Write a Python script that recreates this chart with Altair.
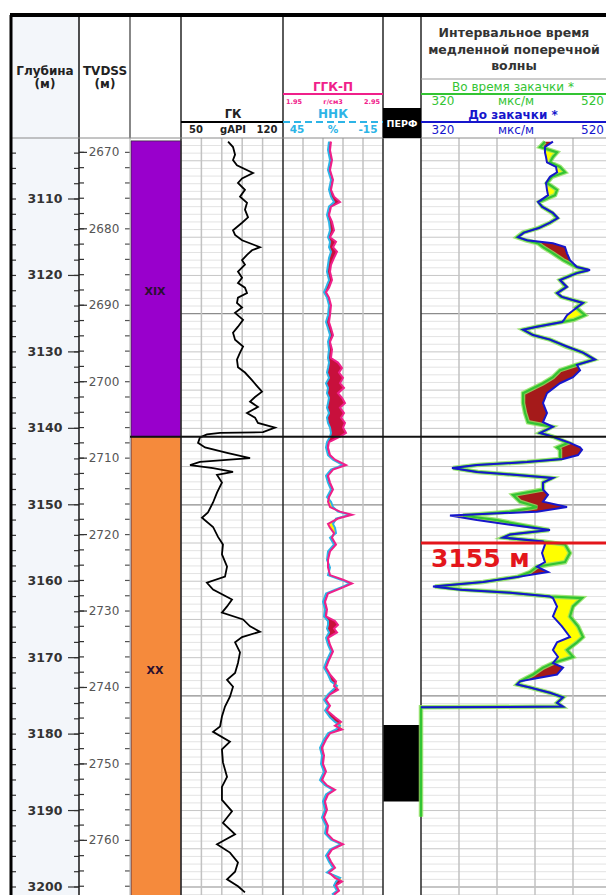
import altair as alt
import pandas as pd

# ---------------- log data (MD in metres) ----------------
# Gamma ray, gAPI
GK_LOG = [
    (3102.5, 82.3), (3103.2, 85.7), (3104.2, 87.1), (3104.9, 85.7), (3105.6, 88.4),
    (3106.6, 99.4), (3107.3, 91.9), (3107.9, 89.1), (3108.8, 93.9), (3109.7, 90.5),
    (3110.5, 95.3), (3111.4, 93.9), (3112.4, 96.0), (3113.1, 91.9), (3114.1, 85.7),
    (3114.7, 87.1), (3115.4, 91.9), (3116.3, 104.2), (3116.7, 98.7), (3117.3, 95.3),
    (3118.0, 91.9), (3118.6, 93.9), (3119.5, 89.1), (3120.3, 91.9), (3121.0, 89.1),
    (3121.6, 93.9), (3122.3, 95.3), (3122.9, 89.1), (3123.6, 88.4), (3124.2, 91.9),
    (3124.9, 87.1), (3125.8, 92.6), (3126.7, 89.1), (3127.5, 85.7), (3128.4, 87.1),
    (3129.3, 92.6), (3130.1, 90.5), (3131.0, 88.4), (3132.0, 89.1), (3132.7, 93.9),
    (3133.7, 98.7), (3134.6, 102.8), (3135.2, 105.6), (3135.9, 100.8), (3136.5, 97.4),
    (3137.2, 102.8), (3138.0, 95.3), (3138.6, 100.8), (3139.3, 102.8), (3139.9, 114.5),
    (3140.5, 106.3), (3140.6, 76.8), (3140.8, 67.8), (3141.2, 63.0), (3141.9, 61.7),
    (3142.5, 66.5), (3143.2, 81.6), (3143.9, 97.4), (3144.4, 63.0), (3144.8, 56.2),
    (3145.2, 72.0), (3145.7, 85.7), (3146.1, 74.7), (3147.1, 78.1), (3148.4, 74.7),
    (3149.7, 72.0), (3151.0, 68.5), (3151.7, 64.4), (3152.9, 72.0), (3154.2, 75.4),
    (3155.2, 78.8), (3156.5, 78.1), (3158.1, 81.6), (3159.4, 80.2), (3160.2, 67.8),
    (3161.1, 72.0), (3162.4, 85.0), (3163.3, 81.6), (3164.1, 78.1), (3165.0, 92.6),
    (3165.9, 97.4), (3166.6, 104.2), (3167.3, 91.9), (3168.0, 87.1), (3169.3, 90.5),
    (3170.7, 89.1), (3172.0, 87.1), (3172.9, 81.6), (3173.8, 85.7), (3175.1, 83.6),
    (3176.4, 80.2), (3177.7, 78.1), (3179.0, 76.8), (3179.7, 72.0), (3181.0, 83.6),
    (3182.0, 78.1), (3183.7, 78.8), (3185.6, 81.6), (3186.9, 78.1), (3188.6, 78.1),
    (3190.1, 85.0), (3191.6, 78.8), (3193.1, 87.1), (3194.4, 74.7), (3195.5, 83.6),
    (3196.8, 89.1), (3198.0, 87.1), (3199.0, 81.6), (3199.9, 89.1), (3200.7, 93.9),
]

# Density (g/cm3) and neutron porosity (%)
DENS_NEUT = [
    (3102.5, 2.43, 17.4), (3103.6, 2.42, 18.0), (3104.9, 2.44, 16.8), (3106.2, 2.42, 18.0),
    (3107.5, 2.45, 16.2), (3108.8, 2.43, 17.4), (3109.7, 2.46, 16.2), (3110.4, 2.52, 14.4),
    (3111.0, 2.43, 17.4), (3112.1, 2.41, 18.6), (3113.0, 2.44, 17.4), (3114.1, 2.46, 16.8),
    (3115.0, 2.42, 18.0), (3115.6, 2.48, 16.8), (3116.3, 2.45, 17.4), (3116.9, 2.49, 16.2),
    (3117.7, 2.46, 17.4), (3118.6, 2.43, 18.0), (3119.5, 2.42, 18.6), (3120.6, 2.44, 17.4),
    (3121.6, 2.41, 19.2), (3122.2, 2.38, 20.4), (3122.9, 2.41, 18.6), (3123.9, 2.43, 17.4),
    (3125.2, 2.42, 18.0), (3126.1, 2.41, 19.2), (3126.9, 2.43, 18.0), (3127.8, 2.45, 16.8),
    (3128.7, 2.42, 18.0), (3129.7, 2.44, 17.4), (3130.8, 2.43, 18.0), (3131.4, 2.50, 17.4),
    (3132.1, 2.54, 18.0), (3132.7, 2.51, 18.6), (3133.4, 2.55, 17.4), (3134.1, 2.52, 19.2),
    (3134.7, 2.56, 18.0), (3135.4, 2.50, 18.6), (3136.0, 2.54, 17.4), (3136.7, 2.57, 18.0),
    (3137.3, 2.52, 18.6), (3138.0, 2.56, 17.4), (3138.6, 2.53, 18.6), (3139.3, 2.57, 18.0),
    (3139.9, 2.55, 16.8), (3140.6, 2.58, 16.2), (3141.1, 2.52, 16.8), (3141.8, 2.41, 18.6),
    (3142.5, 2.40, 19.2), (3143.5, 2.42, 18.0), (3144.1, 2.47, 15.0), (3144.8, 2.58, 9.0),
    (3145.4, 2.45, 16.2), (3146.2, 2.40, 19.2), (3147.1, 2.42, 18.0), (3148.0, 2.45, 16.2),
    (3149.0, 2.41, 18.6), (3149.6, 2.40, 16.2), (3150.3, 2.42, 15.0), (3150.9, 2.52, 12.0),
    (3151.3, 2.64, 4.8), (3151.8, 2.50, 13.2), (3152.5, 2.40, 15.0), (3153.0, 2.42, 13.8),
    (3153.7, 2.46, 13.2), (3154.3, 2.44, 16.8), (3155.2, 2.48, 14.4), (3156.1, 2.42, 18.0),
    (3157.2, 2.40, 18.6), (3158.2, 2.40, 16.8), (3159.2, 2.42, 18.0), (3159.8, 2.55, 10.2),
    (3160.3, 2.64, 4.8), (3160.8, 2.55, 10.2), (3161.6, 2.40, 19.2), (3162.7, 2.37, 21.0),
    (3163.7, 2.39, 19.8), (3164.6, 2.38, 20.4), (3165.2, 2.47, 18.0), (3165.7, 2.50, 18.0),
    (3166.2, 2.46, 18.6), (3166.7, 2.49, 17.4), (3167.4, 2.40, 19.2), (3168.3, 2.42, 18.0),
    (3169.2, 2.45, 16.2), (3170.3, 2.41, 18.6), (3171.3, 2.38, 20.4), (3172.2, 2.42, 18.0),
    (3173.1, 2.48, 16.2), (3173.7, 2.46, 12.6), (3174.2, 2.50, 15.0), (3174.8, 2.42, 18.0),
    (3175.5, 2.38, 20.4), (3176.3, 2.42, 18.0), (3176.9, 2.39, 19.8), (3177.8, 2.47, 16.8),
    (3178.4, 2.53, 13.8), (3178.9, 2.47, 10.8), (3179.4, 2.54, 13.2), (3179.9, 2.42, 18.0),
    (3180.7, 2.38, 20.4), (3181.8, 2.34, 22.8), (3182.8, 2.36, 21.6), (3183.9, 2.35, 22.2),
    (3184.9, 2.38, 20.4), (3186.0, 2.34, 22.8), (3186.7, 2.39, 19.8), (3187.3, 2.47, 15.0),
    (3187.9, 2.40, 19.2), (3188.8, 2.37, 21.0), (3189.9, 2.39, 19.8), (3190.9, 2.36, 21.6),
    (3192.0, 2.40, 19.2), (3193.0, 2.39, 19.8), (3193.8, 2.45, 16.2), (3194.4, 2.55, 10.2),
    (3195.1, 2.44, 16.8), (3195.9, 2.40, 19.2), (3196.7, 2.43, 17.4), (3197.5, 2.47, 15.0),
    (3198.1, 2.41, 18.6), (3198.8, 2.47, 10.8), (3199.3, 2.54, 13.2), (3199.8, 2.48, 14.4),
    (3200.5, 2.51, 12.6), (3201.0, 2.46, 15.6),
]

# Slow shear slowness, us/m: (MD, during injection, before injection)
DT_LOG = [
    (3102.5, 450.5, 458.9), (3103.2, 445.3, 450.5), (3103.9, 463.2, 450.5), (3104.5, 458.9, 451.6),
    (3105.2, 455.8, 452.6), (3105.8, 466.3, 462.1), (3106.5, 471.6, 463.2), (3107.1, 457.9, 455.8),
    (3107.9, 452.6, 451.6), (3108.8, 463.2, 452.6), (3109.5, 461.1, 453.7), (3110.4, 444.2, 443.2),
    (3111.0, 447.4, 447.4), (3111.8, 457.9, 458.9), (3112.5, 463.2, 464.2), (3113.1, 455.8, 455.8),
    (3113.8, 443.2, 444.2), (3114.4, 427.4, 428.4), (3115.0, 421.1, 422.1), (3115.4, 430.5, 431.6),
    (3115.8, 443.2, 458.9), (3116.3, 448.4, 471.6), (3117.1, 458.9, 473.7), (3118.0, 469.5, 476.8),
    (3118.9, 483.2, 484.2), (3119.3, 495.8, 497.9), (3119.7, 483.2, 484.2), (3120.6, 466.3, 466.3),
    (3121.5, 472.6, 473.7), (3122.3, 463.2, 463.2), (3122.8, 467.4, 468.4), (3123.6, 490.5, 490.5),
    (3124.2, 483.2, 484.2), (3125.2, 492.6, 473.7), (3125.8, 481.1, 470.5), (3126.1, 468.4, 468.4),
    (3126.7, 442.1, 442.1), (3127.1, 427.4, 427.4), (3127.8, 437.9, 437.9), (3128.4, 455.8, 455.8),
    (3129.3, 472.6, 473.7), (3130.1, 490.5, 490.5), (3131.0, 502.1, 503.2), (3131.7, 483.2, 484.2),
    (3132.4, 466.3, 487.4), (3133.3, 458.9, 480.0), (3134.1, 448.4, 466.3), (3135.4, 427.4, 452.6),
    (3136.7, 427.4, 448.4), (3138.0, 429.5, 452.6), (3139.2, 432.6, 448.4), (3139.8, 457.9, 458.9),
    (3140.6, 445.3, 445.3), (3141.1, 458.9, 458.9), (3141.9, 474.7, 476.8), (3142.5, 463.2, 487.4),
    (3142.8, 466.3, 489.5), (3143.5, 466.3, 485.3), (3144.0, 466.3, 469.5), (3144.4, 431.6, 431.6),
    (3144.8, 378.9, 378.9), (3145.2, 353.7, 352.6), (3145.7, 380.0, 378.9), (3146.1, 421.1, 421.1),
    (3146.5, 457.9, 458.9), (3147.1, 448.4, 448.4), (3148.0, 448.4, 448.4), (3148.7, 416.8, 453.7),
    (3149.6, 424.2, 448.4), (3150.3, 442.1, 473.7), (3150.9, 413.7, 442.1), (3151.4, 364.2, 350.5),
    (3152.0, 400.0, 378.9), (3152.6, 424.2, 413.7), (3153.3, 454.7, 455.8), (3153.9, 413.7, 413.7),
    (3154.3, 406.3, 406.3), (3154.8, 448.4, 448.4), (3155.2, 471.6, 450.5), (3156.3, 476.8, 447.4),
    (3157.5, 471.6, 450.5), (3158.1, 442.1, 442.1), (3158.8, 434.7, 453.7), (3159.4, 422.1, 424.2),
    (3160.1, 385.3, 385.3), (3160.7, 334.7, 332.6), (3161.1, 363.2, 361.1), (3161.5, 413.7, 413.7),
    (3162.0, 455.8, 455.8), (3162.2, 489.5, 458.9), (3163.3, 480.0, 463.2), (3164.6, 476.8, 458.9),
    (3165.9, 485.3, 468.4), (3167.3, 490.5, 476.8), (3168.0, 484.2, 463.2), (3169.0, 473.7, 458.9),
    (3169.9, 480.0, 464.2), (3170.7, 458.9, 458.9), (3171.3, 448.4, 469.5), (3172.2, 437.9, 463.2),
    (3173.1, 424.2, 424.2), (3173.5, 421.1, 421.1), (3173.9, 434.7, 434.7), (3174.6, 455.8, 455.8),
    (3175.2, 469.5, 469.5), (3175.9, 463.2, 463.2), (3176.4, 468.4, 469.5), (3176.5, 320.0, 320.0),
]
DT_DURING_TAIL = [(3176.5, 320.0), (3190.8, 320.0)]

MD_LABELS = [3110, 3120, 3130, 3140, 3150, 3160, 3170, 3180, 3190, 3200]
TVD_LABELS = [2670, 2680, 2690, 2700, 2710, 2720, 2730, 2740, 2750, 2760]
TVD_SHIFT = 433.9  # MD - TVDSS

ZONES = [("XIX", 3102.4, 3141.1), ("XX", 3141.1, 3201.5)]
PERF = [(3178.8, 3188.8)]
MARK_DEPTH = 3155

# ---------------- layout / style ----------------
FONT = "DejaVu Sans"
PINK, CYAN = "#f0208a", "#2db4e6"
GREEN, BLUE = "#33c433", "#1616cc"
X_DEPTH, X_TVD, X_ZONE, X_GK, X_DN, X_PERF, X_DT, X_END = 11, 79, 130, 181, 283, 383, 421, 611
Y_TOP, Y_HEAD, Y_BOT = 15, 138, 895

Y = alt.Scale(domain=[3110, 3200], range=[199, 887], nice=False, zero=False)
ONE = pd.DataFrame({"k": [0]})


def ysc(field="md"):
    return alt.Y(f"{field}:Q", scale=Y, axis=None)


def xsc(field, dom, rng, stack=False):
    kw = dict(scale=alt.Scale(domain=dom, range=rng, nice=False, zero=False), axis=None)
    if stack:
        kw["stack"] = None
    return alt.X(f"{field}:Q", **kw)


def hline(x1, x2, y, color, width=1.0, dash=None):
    kw = dict(color=color, strokeWidth=width)
    if dash:
        kw["strokeDash"] = dash
    return alt.Chart(ONE).mark_rule(**kw).encode(x=alt.value(x1), x2=alt.value(x2), y=alt.value(y))


def vline(x, y1, y2, color, width=1.0):
    return alt.Chart(ONE).mark_rule(color=color, strokeWidth=width).encode(
        x=alt.value(x), y=alt.value(y1), y2=alt.value(y2))


def box(x1, x2, y1, y2, color):
    return alt.Chart(ONE).mark_rect(color=color).encode(
        x=alt.value(x1), x2=alt.value(x2), y=alt.value(y1), y2=alt.value(y2))


def label(text, x, y, size, color="#222", bold=True, align="center"):
    return alt.Chart(ONE).mark_text(
        text=text, fontSize=size, color=color, font=FONT,
        fontWeight="bold" if bold else "normal", align=align, baseline="middle",
    ).encode(x=alt.value(x), y=alt.value(y))


layers = []

# depth column background
layers.append(box(X_DEPTH, X_TVD, Y_TOP, Y_BOT, "#f3f6fa"))

# horizontal depth grid in the curve tracks
grid = pd.DataFrame({"md": list(range(3103, 3202))})
grid["kind"] = grid["md"].map(lambda d: "c" if d % 25 == 0 else ("b" if d % 5 == 0 else "a"))
grid_style = {"a": ("#e3e3e3", 1), "b": ("#c6c6c6", 1), "c": ("#8c8c8c", 1.2)}
for kind, (col, w) in grid_style.items():
    for x1, x2 in [(X_GK, X_DN), (X_DN, X_PERF), (X_DT, X_END)]:
        layers.append(
            alt.Chart(grid).transform_filter(f"datum.kind == '{kind}'")
            .mark_rule(color=col, strokeWidth=w)
            .encode(y=ysc(), x=alt.value(x1), x2=alt.value(x2))
        )

# vertical track grid
for vals, dom, rng in [
    ([64, 78, 92, 106], [50, 120], [X_GK, X_DN]),
    ([2.15, 2.35, 2.55, 2.75], [1.95, 2.95], [X_DN, X_PERF]),
    ([360, 400, 440, 480], [320, 520], [X_DT, X_END]),
]:
    layers.append(
        alt.Chart(pd.DataFrame({"v": vals})).mark_rule(color="#c2c2c2", strokeWidth=1.5)
        .encode(x=xsc("v", dom, rng), y=alt.value(Y_HEAD), y2=alt.value(Y_BOT))
    )

# stratigraphic units
zones = pd.DataFrame(ZONES, columns=["zone", "top", "base"])
layers.append(
    alt.Chart(zones).mark_rect(stroke="#3b2040", strokeWidth=0.8).encode(
        x=alt.value(X_ZONE + 1), x2=alt.value(X_GK),
        y=ysc("top"), y2="base:Q",
        color=alt.Color("zone:N", scale=alt.Scale(domain=["XIX", "XX"], range=["#9900cc", "#f58a3c"]), legend=None),
    )
)
layers.append(
    alt.Chart(zones).transform_calculate(mid="(datum.top + datum.base) / 2")
    .mark_text(font=FONT, fontWeight="bold", fontSize=11, color="#2a1030", dy=3)
    .encode(x=alt.value(155), y=ysc("mid"), text="zone:N")
)

# perforation interval
perf = pd.DataFrame(PERF, columns=["top", "base"])
layers.append(
    alt.Chart(perf).mark_rect(color="#000000").encode(
        x=alt.value(X_PERF), x2=alt.value(X_DT), y=ysc("top"), y2="base:Q")
)

# depth ticks and labels (MD)
md_minor = pd.DataFrame({"md": list(range(3104, 3202, 2))})
md_major = pd.DataFrame({"md": MD_LABELS})
layers.append(alt.Chart(md_minor).mark_rule(color="#333", strokeWidth=1.2).encode(
    y=ysc(), x=alt.value(12), x2=alt.value(16)))
layers.append(alt.Chart(md_minor).mark_rule(color="#333", strokeWidth=1.2).encode(
    y=ysc(), x=alt.value(74), x2=alt.value(X_TVD)))
layers.append(alt.Chart(md_major).mark_rule(color="#333", strokeWidth=1.2).encode(
    y=ysc(), x=alt.value(68), x2=alt.value(X_TVD)))
layers.append(alt.Chart(md_major).mark_text(font=FONT, fontWeight="bold", fontSize=12.5, color="#333")
              .encode(y=ysc(), x=alt.value(45), text=alt.Text("md:Q", format="d")))

# TVDSS ticks and labels
tvd_minor = pd.DataFrame({"tvd": list(range(2670, 2768, 2))})
tvd_major = pd.DataFrame({"tvd": TVD_LABELS})
shift = f"datum.tvd + {TVD_SHIFT}"
layers.append(alt.Chart(tvd_minor).transform_calculate(md=shift).mark_rule(color="#333", strokeWidth=1.2)
              .encode(y=ysc(), x=alt.value(X_TVD), x2=alt.value(84)))
layers.append(alt.Chart(tvd_minor).transform_calculate(md=shift).mark_rule(color="#555", strokeWidth=1.2)
              .encode(y=ysc(), x=alt.value(125), x2=alt.value(X_ZONE)))
layers.append(alt.Chart(tvd_major).transform_calculate(md=shift).mark_rule(color="#333", strokeWidth=1.2)
              .encode(y=ysc(), x=alt.value(X_TVD), x2=alt.value(87)))
layers.append(alt.Chart(tvd_major).transform_calculate(md=shift)
              .mark_text(font=FONT, fontSize=12, color="#555")
              .encode(y=ysc(), x=alt.value(104), text=alt.Text("tvd:Q", format="d")))

# column separators
layers.append(vline(X_TVD, Y_TOP, Y_BOT, "#222", 1.6))
layers.append(vline(X_ZONE, Y_TOP, Y_HEAD, "#555", 1.4))
layers.append(vline(X_ZONE, Y_HEAD, Y_BOT, "#aaaaaa", 1))
for xx in (X_GK, X_DN, X_PERF, X_DT):
    layers.append(vline(xx, Y_TOP, Y_BOT, "#333", 1.6))
layers.append(hline(X_DEPTH, 606, Y_HEAD, "#8a8a8a", 1))

# density / neutron track
dn = pd.DataFrame(DENS_NEUT, columns=["md", "rho", "nphi"])
DN_RHO = dict(dom=[1.95, 2.95], rng=[X_DN, X_PERF])
dn_eq = "1.95 + (45 - datum.nphi) / 60"
layers.append(
    alt.Chart(dn).transform_calculate(neq=dn_eq)
    .transform_calculate(lo="datum.neq", hi="max(datum.rho, datum.neq)")
    .mark_area(orient="horizontal", color="#c8103c")
    .encode(y=ysc(), x=xsc("lo", **DN_RHO, stack=True), x2="hi:Q")
)
layers.append(
    alt.Chart(dn).transform_calculate(neq=dn_eq)
    .transform_calculate(lo="datum.rho", hi="max(datum.rho, datum.neq)")
    .mark_area(orient="horizontal", color="#ffee00")
    .encode(y=ysc(), x=xsc("lo", **DN_RHO, stack=True), x2="hi:Q")
)
layers.append(
    alt.Chart(dn).mark_line(color=CYAN, strokeWidth=2)
    .encode(x=xsc("nphi", [45, -15], [X_DN, X_PERF]), y=ysc(), order="md:Q")
)
layers.append(
    alt.Chart(dn).mark_line(color=PINK, strokeWidth=2)
    .encode(x=xsc("rho", **DN_RHO), y=ysc(), order="md:Q")
)

# gamma ray
gk = pd.DataFrame(GK_LOG, columns=["md", "gk"])
layers.append(
    alt.Chart(gk).mark_line(color="#000000", strokeWidth=1.8)
    .encode(x=xsc("gk", [50, 120], [X_GK, X_DN]), y=ysc(), order="md:Q")
)

# slow shear slowness track
dt = pd.DataFrame(DT_LOG, columns=["md", "during", "before"])
DT_SC = dict(dom=[320, 520], rng=[X_DT, X_END])
layers.append(
    alt.Chart(dt).transform_calculate(lo="datum.during", hi="max(datum.during, datum.before)")
    .mark_area(orient="horizontal", color="#a51a1a")
    .encode(y=ysc(), x=xsc("lo", **DT_SC, stack=True), x2="hi:Q")
)
layers.append(
    alt.Chart(dt).transform_calculate(lo="datum.before", hi="max(datum.during, datum.before)")
    .mark_area(orient="horizontal", color="#ffff00")
    .encode(y=ysc(), x=xsc("lo", **DT_SC, stack=True), x2="hi:Q")
)
dt_green = pd.concat([dt[["md", "during"]], pd.DataFrame(DT_DURING_TAIL, columns=["md", "during"])]).drop_duplicates("md")
layers.append(
    alt.Chart(dt_green).mark_line(color="#8fe060", strokeWidth=4.5, opacity=0.85)
    .encode(x=xsc("during", **DT_SC), y=ysc(), order="md:Q")
)
layers.append(
    alt.Chart(dt_green).mark_line(color=GREEN, strokeWidth=2.2)
    .encode(x=xsc("during", **DT_SC), y=ysc(), order="md:Q")
)
layers.append(
    alt.Chart(dt).mark_line(color=BLUE, strokeWidth=2)
    .encode(x=xsc("before", **DT_SC), y=ysc(), order="md:Q")
)

# unit boundary and injection marker
layers.append(
    alt.Chart(zones.iloc[[0]]).mark_rule(color="#111", strokeWidth=2)
    .encode(y=ysc("base"), x=alt.value(X_ZONE), x2=alt.value(X_END))
)
mark = pd.DataFrame({"md": [MARK_DEPTH]})
layers.append(
    alt.Chart(mark).mark_rule(color="#e3161b", strokeWidth=3)
    .encode(y=ysc(), x=alt.value(X_DT), x2=alt.value(X_END))
)
layers.append(
    alt.Chart(mark).transform_calculate(t="datum.md + ' м'")
    .mark_text(font=FONT, fontWeight="bold", fontSize=25, color="#e3161b", align="left", dy=16)
    .encode(y=ysc(), x=alt.value(431), text="t:N")
)

# outer frame
layers.append(hline(X_DEPTH - 1, 606, Y_TOP, "#000", 4))
layers.append(vline(X_DEPTH, Y_TOP, Y_BOT, "#000", 3))

# ---------------- header ----------------
layers += [
    label("Глубина", 45, 71, 12), label("(м)", 45, 84, 12),
    label("TVDSS", 105, 71, 12), label("(м)", 105, 84, 12),
    label("ГК", 233, 115, 11.5),
    hline(X_GK, X_DN, 122, "#000", 2),
    label("50", 196, 130, 10), label("gAPI", 233, 130, 10), label("120", 267, 130, 10),
    label("ГГК-П", 333, 87, 12, PINK),
    hline(X_DN, X_PERF, 94, PINK, 2),
    label("1.95", 286, 102, 6.5, PINK, align="left"),
    label("г/см3", 333, 102, 6.5, PINK),
    label("2.95", 380, 102, 6.5, PINK, align="right"),
    label("ННК", 333, 114, 12, CYAN),
    hline(X_DN, X_PERF, 122, CYAN, 2, [7, 4]),
    label("45", 297, 130, 10.5, CYAN), label("%", 333, 130, 10.5, CYAN), label("-15", 368, 130, 10.5, CYAN),
    box(X_PERF, X_DT, 108, Y_HEAD, "#000"),
    label("ПЕРФ", 402, 124, 9.5, "#ffffff"),
    label("Интервальное время", 514, 33, 12.5, "#333"),
    label("медленной поперечной", 514, 50, 12.5, "#333"),
    label("волны", 514, 66, 12.5, "#333"),
    hline(X_DT, 606, 79, "#999", 1),
    label("Во время закачки *", 513, 86.5, 12, GREEN, bold=False),
    hline(X_DT, 606, 94, GREEN, 2),
    label("320", 443, 101, 12, GREEN, bold=False),
    label("мкс/м", 516, 101, 12, GREEN, bold=False),
    label("520", 604, 101, 12, GREEN, bold=False, align="right"),
    label("До закачки *", 513, 115, 12, BLUE),
    hline(X_DT, 606, 122, BLUE, 2),
    label("320", 443, 130, 12, BLUE, bold=False),
    label("мкс/м", 516, 130, 12, BLUE, bold=False),
    label("520", 604, 130, 12, BLUE, bold=False, align="right"),
]

chart = (
    alt.layer(*layers)
    .resolve_scale(x="independent")
    .properties(width=606, height=895, autosize="none", padding=0, background="#ffffff")
    .configure_view(stroke=None)
)

chart.save("out.html", embed_options={"renderer": "svg", "actions": False})
